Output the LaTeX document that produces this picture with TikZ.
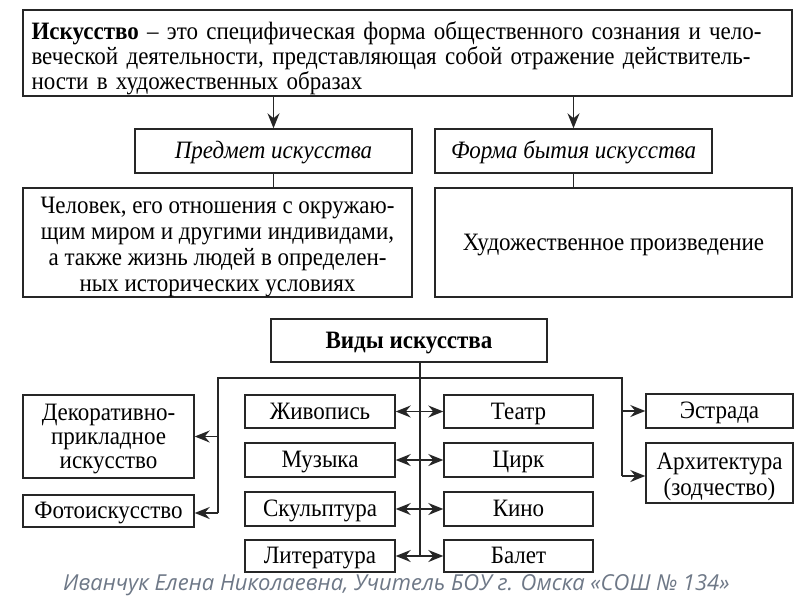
\documentclass[tikz,border=0pt]{standalone}
\usepackage{fontspec}
\setmainfont{Liberation Serif}[FakeStretch=0.92]
\newfontfamily\footfont{Open Sans}
\usetikzlibrary{arrows.meta,calc}
\definecolor{linecol}{HTML}{262626}
\definecolor{footcol}{HTML}{6E7887}
\tikzset{
  box/.style={draw=linecol, line width=1.4pt, inner sep=0pt, align=center, font=\fontsize{25}{25}\selectfont},
  txt/.style={inner sep=0pt, align=center, font=\fontsize{25}{25}\selectfont},
  one/.style={text height=16.5pt, text depth=1.5pt},
  conn/.style={draw=linecol, line width=1.4pt},
  tip/.tip={Stealth[length=15pt,width=12pt,inset=5pt]},
  arr/.style={conn, -tip},
  biarr/.style={conn, tip-tip},
}
\begin{document}
\begin{tikzpicture}[x=1pt,y=-1pt]
\useasboundingbox (0,0) rectangle (800,600);
\fill[white] (0,0) rectangle (800,600);

% top definition box
\node[box, minimum width=769pt, minimum height=86pt] (def) at (407.5,53) {};
\node[txt, text width=752pt, align=left] (deft) at (407.5,58)
 {\makebox[733pt][s]{\textbf{Искусство} – это специфическая форма общественного сознания и чело-}\\
  \makebox[733pt][s]{веческой деятельности, представляющая собой отражение действитель-}\\
  ности в художественных образах};

\node[box, one, minimum width=277pt, minimum height=44pt, font=\fontsize{25}{25}\selectfont\itshape] (pred) at (273.5,151) {Предмет искусства};
\node[box, one, minimum width=277pt, minimum height=44pt, font=\fontsize{25}{25}\selectfont\itshape] (forma) at (573.5,151) {Форма бытия искусства};

\node[box, minimum width=389pt, minimum height=109pt] (chel) at (217.5,242.5) {};
\node[txt, font=\fontsize{25}{26.3}\selectfont] (chelt) at (217.5,247)
 {Человек, его отношения с окружаю-\\щим миром и другими индивидами,\\а также жизнь людей в определен-\\ных исторических условиях};
\node[box, one, minimum width=357pt, minimum height=109pt] (khud) at (613.5,242.5) {Художественное произведение};

\draw[arr] (def.south -| pred) -- (pred.north);
\draw[arr] (def.south -| forma) -- (forma.north);
\draw[conn] (pred.south) -- (chel.north -| pred);
\draw[conn] (forma.south) -- (khud.north -| forma);

% types of art
\node[box, one, minimum width=276pt, minimum height=43pt, font=\fontsize{25}{25}\selectfont\bfseries] (vidy) at (409,340.5) {Виды искусства};

\node[box, minimum width=171pt, minimum height=83pt] (decor) at (108.5,436.5) {};
\node[txt, font=\fontsize{25}{24}\selectfont] (decort) at (108.5,439.5) {Декоративно-\\прикладное\\искусство};
\node[box, one, minimum width=171pt, minimum height=32pt] (foto) at (108.5,511) {Фотоискусство};

\node[box, one, minimum width=150pt, minimum height=33pt] (zhiv) at (320,411.5) {Живопись};
\node[box, one, minimum width=150pt, minimum height=34pt] (muz) at (320,460) {Музыка};
\node[box, one, minimum width=150pt, minimum height=34pt] (skul) at (320,509) {Скульптура};
\node[box, one, minimum width=150pt, minimum height=32pt] (lit) at (320,556) {Литература};

\node[box, one, minimum width=149pt, minimum height=33pt] (teatr) at (518.5,411.5) {Театр};
\node[box, one, minimum width=149pt, minimum height=34pt] (tsirk) at (518.5,460) {Цирк};
\node[box, one, minimum width=149pt, minimum height=34pt] (kino) at (518.5,509) {Кино};
\node[box, one, minimum width=149pt, minimum height=32pt] (balet) at (518.5,556) {Балет};

\node[box, one, minimum width=147pt, minimum height=34pt] (estr) at (719.5,411) {Эстрада};
\node[box, minimum width=147pt, minimum height=60pt] (arkh) at (719.5,473) {};
\node[txt, font=\fontsize{25}{26}\selectfont] (arkht) at (719.5,477) {Архитектура\\(зодчество)};

% spine coordinates
\coordinate (top) at (420,362);
\coordinate (bot) at (420,556);
\coordinate (hl) at (218,378);
\coordinate (hr) at (622,378);
\coordinate (ld) at (218,513);
\coordinate (rd) at (622,476);

\draw[conn] (top) -- (bot);
\draw[conn] (ld) -- (hl) -- (hr) -- (rd);

\draw[arr] (hl |- decor.east) -- (decor.east);
\draw[arr] (ld) -- (foto.east |- ld);
\draw[arr] (hr |- estr.west) -- (estr.west);
\draw[arr] (rd) -- (arkh.west |- rd);

\draw[biarr] (zhiv.east) -- (teatr.west);
\draw[biarr] (muz.east) -- (tsirk.west);
\draw[biarr] (skul.east) -- (kino.west);
\draw[biarr] (lit.east) -- (balet.west);

% footer
\node[font=\footfont\itshape\fontsize{22}{24}\selectfont, text=footcol, inner sep=0pt, anchor=west] (foot) at (63,585)
 {Иванчук Елена Николаевна, Учитель БОУ г. Омска «СОШ № 134»};
\end{tikzpicture}
\end{document}
